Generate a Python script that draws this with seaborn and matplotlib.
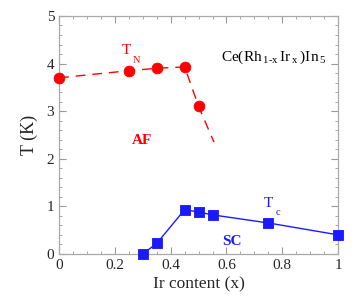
import numpy as np
import pandas as pd
import seaborn as sns
import matplotlib
matplotlib.use("Agg")
import matplotlib.pyplot as plt
from matplotlib.ticker import MultipleLocator

# Neel temperature T_N
x_tn = [0.0, 0.25, 0.35, 0.45, 0.50]
t_tn = [3.70, 3.85, 3.90, 3.93, 3.10]
# dashed guide continues below the last point
x_tn_line = [0.0, 0.25, 0.35, 0.45, 0.50, 0.555]
t_tn_line = [3.70, 3.85, 3.90, 3.93, 3.10, 2.35]

# superconducting Tc
x_tc = [0.30, 0.35, 0.45, 0.50, 0.55, 0.75, 1.00]
t_tc = [0.00, 0.22, 0.93, 0.88, 0.82, 0.65, 0.40]

RED = "#ff0000"
BLUE = "#1a1aff"

sns.set_style("ticks")
plt.rcParams["font.family"] = ["Liberation Serif", "DejaVu Serif"]
plt.rcParams["mathtext.fontset"] = "custom"
plt.rcParams["mathtext.rm"] = "Liberation Serif"

fig, ax = plt.subplots(figsize=(3.54, 3.07), dpi=100)
fig.subplots_adjust(left=0.167, right=0.955, top=0.948, bottom=0.173)

tn_line = pd.DataFrame({"x": x_tn_line, "T": t_tn_line})
tn = pd.DataFrame({"x": x_tn, "T": t_tn})
tc = pd.DataFrame({"x": x_tc, "T": t_tc})

sns.lineplot(data=tn_line, x="x", y="T", ax=ax, color=RED, lw=1.0,
             linestyle=(0, (7, 5)))
sns.scatterplot(data=tn, x="x", y="T", ax=ax, color=RED, s=60,
                marker="o", edgecolor=RED, zorder=3, clip_on=False)
sns.lineplot(data=tc, x="x", y="T", ax=ax, color=BLUE, lw=1.0)
sns.scatterplot(data=tc, x="x", y="T", ax=ax, color=BLUE, s=60,
                marker="s", edgecolor=BLUE, zorder=3, clip_on=False)

ax.set_xlim(0, 1)
ax.set_ylim(0, 5)
ax.xaxis.set_major_locator(MultipleLocator(0.2))
ax.xaxis.set_minor_locator(MultipleLocator(0.05))
ax.yaxis.set_major_locator(MultipleLocator(1))
ax.yaxis.set_minor_locator(MultipleLocator(0.2))
ax.xaxis.set_major_formatter(plt.FuncFormatter(lambda v, p: f"{v:g}"))
ax.tick_params(which="both", direction="in", top=True, right=True,
               color="#999999", labelsize=11)
ax.tick_params(which="major", length=5, width=0.8)
ax.tick_params(which="minor", length=2.5, width=0.6)
for sp in ax.spines.values():
    sp.set_color("#aaaaaa")
    sp.set_linewidth(0.9)

ax.set_xlabel("Ir content (x)", fontsize=12.5, labelpad=3)
ax.set_ylabel("T (K)", fontsize=13, labelpad=6)

# labels with lowered subscripts, as in the original figure
ax.text(0.225, 4.2, "T", color=RED, fontsize=11)
ax.text(0.265, 4.02, "N", color=RED, fontsize=7.5)
ax.text(0.735, 0.98, "T", color=BLUE, fontsize=11)
ax.text(0.775, 0.81, "c", color=BLUE, fontsize=7.5)
ax.text(0.58, 4.05, r"$\mathregular{Ce(Rh_{\,1\text{-}x}\,Ir_{\,x}\,)In_{\,5}}$",
        color="black", fontsize=11)
ax.text(0.26, 2.3, "AF", color=RED, fontsize=11, fontweight="bold")
ax.text(0.585, 0.19, "SC", color=BLUE, fontsize=11, fontweight="bold")

fig.savefig("out.png", dpi=100)
